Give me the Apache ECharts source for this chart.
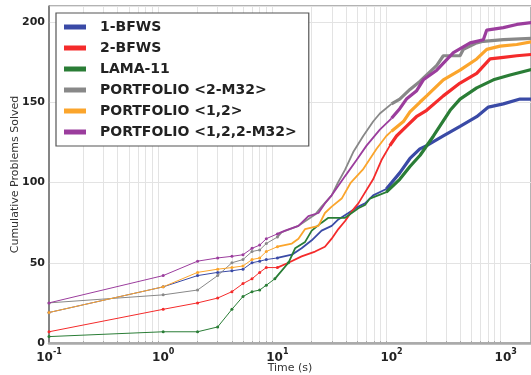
<!DOCTYPE html>
<html><head><meta charset="utf-8">
<script src="https://cdn.jsdelivr.net/npm/echarts@6/dist/echarts.min.js"></script>
<style>html,body{margin:0;padding:0;background:#fff}#c{width:531px;height:375px}</style>
</head><body><div id="c"></div>
<script>
const seriesNames = ['1-BFWS','2-BFWS','LAMA-11','PORTFOLIO <2-M32>','PORTFOLIO <1,2>','PORTFOLIO <1,2,2-M32>'];
const seriesColors = ['#3a4aa6','#f42b2b','#2a7d36','#888888','#fba52c','#9b3d9d'];
const xTickValues = [0.1, 1, 10, 100, 1000];
const yTickValues = [0, 50, 100, 150, 200];

const bfws1 = [[0.1,19],[1,35],[2,42],[3,44],[4,45],[5,46],[6,50],[7,51],[8,52],[10,53],[13.4,55],[16.3,59],[20,64],[24.4,70],[29.9,73],[34.2,77],[41.9,81],[51.2,85],[58.6,87],[69,92],[90,96],[118,106],[145,115],[177,121],[203,123],[284,129],[398,135],[557,141],[705,147],[954,149],[1335,152],[1800,152]];
const bfws2 = [[0.1,7],[1,21],[2,25],[3,28],[4,32],[5,37],[6,40],[7,44],[8,47],[10,47],[12.5,50],[16.3,54],[21.4,57],[26.1,60],[29.9,65],[34.2,71],[39.2,76],[44.8,82],[51.2,87],[56.5,92],[69,102],[81.7,114],[96.7,123],[110.6,129],[135,135],[165,141],[203,145],[284,154],[398,162],[557,168],[729,177],[954,178],[1249,179],[1800,180]];
const lama11 = [[0.1,4],[1,7],[2,7],[3,10],[4,21],[5,29],[6,32],[7,33],[8,36],[9.5,40],[12.5,50],[14.3,59],[17.5,63],[20,70],[24.4,75],[28,78],[39.2,78],[44.8,81],[51.2,84],[58.6,86],[64.6,90],[90,94],[118,102],[145,110],[178,117],[233,129],[326,145],[398,152],[557,159],[780,164],[1091,167],[1800,171]];
const portM32 = [[0.1,25],[1,30],[2,33],[3,42],[4,50],[5,52],[6,57],[7,58],[8,62],[10,66],[10.9,69],[15.3,73],[21.4,80],[24.4,85],[29.9,92],[34,100],[39.2,108],[46.2,119],[56.5,129],[69,138],[79,143],[100,149],[118,152],[145,158],[177,163],[249,173],[284,179],[398,179],[426,183],[557,187],[637,188],[954,189],[1800,190]];
const port12 = [[0.1,19],[1,35],[2,44],[3,46],[4,47],[5,48],[6,52],[7,53],[8,57],[10,60],[13.4,62],[15.3,65],[17.5,71],[22.9,73],[26.1,81],[29.9,85],[36.6,90],[44,100],[56,108],[74,121],[90,129],[100,132],[127,138],[145,144],[177,150],[203,154],[284,164],[398,170],[557,177],[682,183],[892,185],[1249,186],[1800,188]];
const port122 = [[0.1,25],[1,42],[2,51],[3,53],[4,54],[5,55],[6,59],[7,61],[8,65],[10,68],[11.7,70],[15.3,73],[18.7,79],[22.9,81],[26.1,87],[29.9,92],[34.2,98],[39.2,104],[49.4,114],[60.4,123],[79,133],[100,140],[118,146],[135,152],[165,157],[190,164],[249,170],[348,181],[488,187],[637,189],[682,195],[954,196.5],[1249,198.5],[1800,200]];

const allData = [bfws1, bfws2, lama11, portM32, port12, port122];
const FONT = 'DejaVu Sans';

// minor log ticks (2..9 x each decade)
const minorTicks = [];
xTickValues.forEach(d => { for (let k = 2; k <= 9; k++) minorTicks.push(+(d * k).toPrecision(6)); });

function seg(arr, lo, hi) {
  let s = arr.findIndex(p => p[0] >= lo); if (s < 0) s = arr.length - 1;
  let e = arr.length - 1; for (let i = 0; i < arr.length; i++) { if (arr[i][0] <= hi) e = i; }
  s = Math.max(0, s - (arr[s][0] > lo ? 1 : 0));
  e = Math.min(arr.length - 1, e + (arr[e][0] < hi ? 1 : 0));
  return arr.slice(s, e + 1);
}
const parts = [
  {lo: 0, hi: 10, w: 1, sym: true},
  {lo: 10, hi: 100, w: 1.8, sym: false},
  {lo: 100, hi: 1e5, w: 3.2, sym: false}
];
const series = [];
allData.forEach((arr, i) => {
  parts.forEach((p, k) => {
    series.push({
      name: seriesNames[i], type: 'line', data: seg(arr, p.lo, p.hi),
      showSymbol: p.sym, symbol: 'circle', symbolSize: 3,
      lineStyle: {width: p.w, color: seriesColors[i]},
      itemStyle: {color: seriesColors[i]},
      z: 2 + i, animation: false, silent: true, clip: true
    });
  });
});

const chart = echarts.init(document.getElementById('c'), null, {renderer: 'canvas'});
chart.setOption({
  animation: false,
  grid: {left: 49, right: 0, top: 6, bottom: 32, outerBoundsMode: 'none', containLabel: false, show: true, borderColor: '#666', borderWidth: 1, backgroundColor: 'transparent'},
  legend: {
    data: seriesNames, orient: 'vertical', left: 56, top: 13,
    backgroundColor: '#fff', borderColor: '#555', borderWidth: 1.2, borderRadius: 0,
    padding: [6, 12, 6, 8], itemGap: 5, itemWidth: 22, itemHeight: 5, icon: 'rect',
    selectedMode: false,
    textStyle: {fontFamily: FONT, fontWeight: 'bold', fontSize: 14, color: '#222', lineHeight: 16, padding: [0, 0, 0, 9]}
  },
  xAxis: {
    type: 'log', logBase: 10, min: 0.1, max: 1665,
    name: 'Time (s)', nameLocation: 'middle', nameGap: 20, nameMoveOverlap: false,
    nameTextStyle: {fontFamily: FONT, fontSize: 11, color: '#333'},
    axisLine: {show: true, lineStyle: {color: '#aaa', width: 2.5}},
    axisTick: {show: true, inside: true, length: 2, customValues: minorTicks, lineStyle: {color: '#aaa', width: 1}},
    splitLine: {show: true, lineStyle: {color: '#e3e3e3', width: 1}},
    axisLabel: {
      margin: 5,
      formatter: function (v) {
        const e = Math.log10(v); const r = Math.round(e);
        if (Math.abs(e - r) > 1e-6) return '';
        if (xTickValues.every(t => Math.abs(Math.log10(t) - r) > 1e-6)) return '';
        return '{b|10}{s|' + r + '}';
      },
      rich: {
        b: {fontFamily: FONT, fontWeight: 'bold', fontSize: 12, color: '#222', verticalAlign: 'bottom', lineHeight: 16},
        s: {fontFamily: FONT, fontWeight: 'bold', fontSize: 8, color: '#222', verticalAlign: 'top', lineHeight: 16, padding: [0, 0, 6, 0]}
      }
    }
  },
  yAxis: {
    type: 'value', min: 0, max: 210, interval: 50,
    name: 'Cumulative Problems Solved', nameLocation: 'middle', nameGap: 28, nameMoveOverlap: false,
    nameTextStyle: {fontFamily: FONT, fontSize: 11, color: '#333'},
    axisLine: {show: true, lineStyle: {color: '#777', width: 1.5}},
    axisTick: {show: false},
    splitLine: {show: true, lineStyle: {color: '#e3e3e3', width: 1}},
    axisLabel: {
      margin: 4, fontFamily: FONT, fontWeight: 'bold', fontSize: 11, color: '#222',
      formatter: function (v) { return yTickValues.indexOf(v) >= 0 ? String(v) : ''; }
    }
  },
  series: series
});
</script></body></html>
